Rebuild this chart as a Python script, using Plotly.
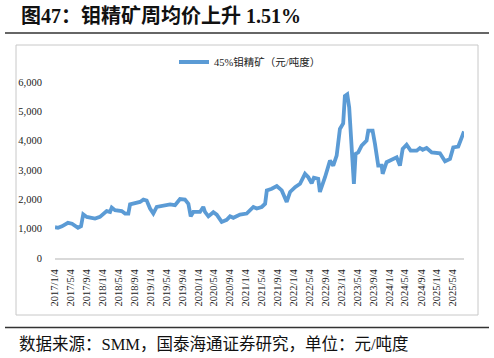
import plotly.graph_objects as go

# ---- data ----
dates = [
    "2017-01-04", "2017-01-27", "2017-02-26", "2017-04-13", "2017-05-14", "2017-06-29", "2017-07-22",
    "2017-08-08", "2017-09-04", "2017-11-06", "2017-12-14", "2018-02-03", "2018-03-01", "2018-03-14",
    "2018-04-08", "2018-05-29", "2018-06-24", "2018-07-19", "2018-08-01", "2018-09-08", "2018-10-16",
    "2018-11-11", "2018-12-06", "2019-01-01", "2019-01-26", "2019-02-21", "2019-04-13", "2019-06-03",
    "2019-07-11", "2019-08-18", "2019-09-25", "2019-10-21", "2019-11-08", "2019-11-28", "2020-01-18",
    "2020-02-12", "2020-02-25", "2020-03-22", "2020-04-29", "2020-05-25", "2020-07-02", "2020-08-09",
    "2020-09-04", "2020-09-29", "2020-11-19", "2021-01-09", "2021-03-01", "2021-03-27", "2021-05-04",
    "2021-05-30", "2021-06-12", "2021-07-20", "2021-08-27", "2021-10-04", "2021-11-11", "2021-12-07",
    "2022-01-14", "2022-02-21", "2022-03-31", "2022-04-25", "2022-05-21", "2022-06-07", "2022-07-10",
    "2022-07-23", "2022-08-31", "2022-09-12", "2022-10-08", "2022-11-02", "2022-11-28", "2022-12-23",
    "2023-01-17", "2023-01-30", "2023-02-17", "2023-03-04", "2023-03-23", "2023-03-30", "2023-04-09",
    "2023-04-22", "2023-05-12", "2023-06-07", "2023-07-15", "2023-07-28", "2023-08-30", "2023-09-17",
    "2023-10-12", "2023-11-07", "2023-11-15", "2023-12-15", "2024-02-04", "2024-03-01", "2024-03-26",
    "2024-04-16", "2024-05-16", "2024-06-16", "2024-08-01", "2024-08-26", "2024-09-16", "2024-10-16",
    "2024-11-24", "2025-01-26", "2025-03-06", "2025-04-13", "2025-05-08", "2025-06-15", "2025-07-04",
    "2025-07-29",
]
price = [
    1050, 1030, 1080, 1200, 1170, 1030, 1080,
    1490, 1400, 1345, 1400, 1600, 1570, 1720,
    1630, 1600, 1515, 1515, 1830, 1875, 1910,
    1990, 1960, 1685, 1515, 1740, 1800, 1830,
    1800, 2010, 1990, 1850, 1420, 1570, 1570,
    1740, 1570, 1420, 1560, 1480, 1230, 1300,
    1420, 1370, 1480, 1515, 1740, 1685, 1740,
    1850, 2305, 2360, 2450, 2305, 1910, 2250,
    2415, 2530, 2870, 2755, 2550, 2735, 2700,
    2250, 2755, 2925, 3320, 3150, 3490, 4400,
    4590, 5525, 5580, 5130, 3660, 2985, 2530,
    3550, 3600, 3830, 4000, 4340, 4340, 3890,
    3150, 3150, 2870, 3265, 3380, 3430, 3150,
    3720, 3860, 3660, 3660, 3750, 3690, 3750,
    3600, 3570, 3300, 3380, 3770, 3800, 4020,
    4315,
]
series_name = "45%钼精矿（元/吨度）"
tick_dates = [
    "2017-01-04", "2017-05-04", "2017-09-04", "2018-01-04", "2018-05-04", "2018-09-04",
    "2019-01-04", "2019-05-04", "2019-09-04", "2020-01-04", "2020-05-04", "2020-09-04",
    "2021-01-04", "2021-05-04", "2021-09-04", "2022-01-04", "2022-05-04", "2022-09-04",
    "2023-01-04", "2023-05-04", "2023-09-04", "2024-01-04", "2024-05-04", "2024-09-04",
    "2025-01-04", "2025-05-04",
]
tick_labels = [d.replace("-0", "/").replace("-", "/") for d in tick_dates]
y_ticks = [0, 1000, 2000, 3000, 4000, 5000, 6000]
y_labels = ["0", "1,000", "2,000", "3,000", "4,000", "5,000", "6,000"]
title_text = "<b>图47：钼精矿周均价上升 1.51%</b>"
source_text = "数据来源：SMM，国泰海通证券研究，单位：元/吨度"

# ---- layout geometry (pixels) ----
W, H = 494, 358
L, R, T, B = 55, 30, 82, 100
PW, PH = W - L - R, H - T - B


def px(x):
    return (x - L) / PW


def py(y):
    return (H - B - y) / PH


SERIF = "Liberation Serif, 'Noto Sans CJK SC', serif"
BLUE = "#5B9BD5"

fig = go.Figure()
fig.add_trace(go.Scatter(
    x=dates, y=price, mode="lines", name=series_name,
    line=dict(color=BLUE, width=3.8),
))

fig.update_layout(
    width=W, height=H,
    margin=dict(l=L, r=R, t=T, b=B),
    paper_bgcolor="white", plot_bgcolor="white",
    showlegend=True,
    legend=dict(
        orientation="h", x=px(174), y=py(62), xanchor="left", yanchor="middle",
        font=dict(family=SERIF, size=10.5, color="#222"),
        bgcolor="rgba(0,0,0,0)",
    ),
    xaxis=dict(
        type="date", range=["2017-01-04", "2025-07-29"],
        tickvals=tick_dates, ticktext=tick_labels, tickangle=-90,
        tickfont=dict(family=SERIF, size=10.5, color="#222"),
        showgrid=False, zeroline=False,
        showline=True, linecolor="#d9d9d9", linewidth=2,
        ticks="outside", ticklen=5, tickcolor="rgba(0,0,0,0)",
    ),
    yaxis=dict(
        range=[0, 6000], tickvals=y_ticks, ticktext=y_labels,
        tickfont=dict(family=SERIF, size=10.5, color="#222"),
        showgrid=False, zeroline=False, showline=False,
        ticks="outside", ticklen=10, tickcolor="rgba(0,0,0,0)",
    ),
    shapes=[
        dict(type="line", xref="paper", yref="paper", x0=px(5), x1=px(489), y0=py(33), y1=py(33),
             line=dict(color="#333", width=1.5)),
        dict(type="rect", xref="paper", yref="paper", x0=px(16), x1=px(478), y0=py(45), y1=py(315),
             line=dict(color="#c8c8c8", width=1)),
        dict(type="line", xref="paper", yref="paper", x0=px(5), x1=px(489), y0=py(327.5), y1=py(327.5),
             line=dict(color="#333", width=1.5)),
    ],
    annotations=[
        dict(text=title_text, xref="paper", yref="paper", x=px(19), y=py(16),
             xanchor="left", yanchor="middle", showarrow=False,
             font=dict(family=SERIF, size=20, color="#111")),
        dict(text=source_text, xref="paper", yref="paper", x=px(17), y=py(344),
             xanchor="left", yanchor="middle", showarrow=False,
             font=dict(family=SERIF, size=16.5, color="#111")),
    ],
)

fig.write_html("out.html", config={"displayModeBar": False},
               post_script="document.body.style.margin='0';")
